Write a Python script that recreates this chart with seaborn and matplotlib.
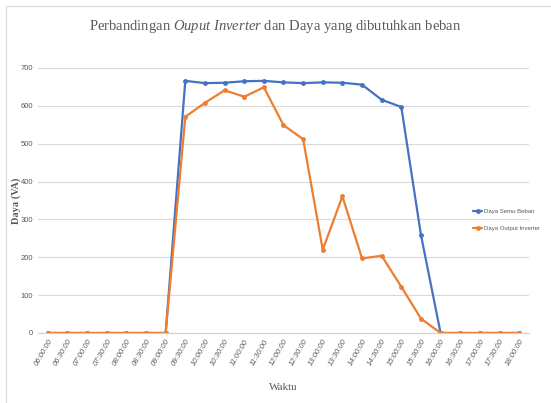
import pandas as pd
import seaborn as sns
import matplotlib.pyplot as plt
from matplotlib.patches import Rectangle

sns.set_style("white")
plt.rcParams['font.family'] = ['Liberation Sans', 'DejaVu Sans']
plt.rcParams['mathtext.fontset'] = 'custom'
plt.rcParams['mathtext.rm'] = 'Liberation Serif'
plt.rcParams['mathtext.it'] = 'Liberation Serif:italic'

waktu = ["06:00:00", "06:30:00", "07:00:00", "07:30:00", "08:00:00", "08:30:00",
         "09:00:00", "09:30:00", "10:00:00", "10:30:00", "11:00:00", "11:30:00",
         "12:00:00", "12:30:00", "13:00:00", "13:30:00", "14:00:00", "14:30:00",
         "15:00:00", "15:30:00", "16:00:00", "16:30:00", "17:00:00", "17:30:00",
         "18:00:00"]
daya_semu_beban = [0, 0, 0, 0, 0, 0, 0, 666, 660, 661, 665, 666, 662, 660,
                   662, 661, 656, 616, 597, 259, 0, 0, 0, 0, 0]
daya_output_inverter = [0, 0, 0, 0, 0, 0, 0, 571, 608, 641, 624, 649, 549, 512,
                        220, 361, 197, 204, 122, 38, 0, 0, 0, 0, 0]

df = pd.concat([
    pd.DataFrame({"Waktu": waktu, "Daya": daya_semu_beban, "Seri": "Daya Semu Beban"}),
    pd.DataFrame({"Waktu": waktu, "Daya": daya_output_inverter, "Seri": "Daya Output Inverter"}),
])

fig = plt.figure(figsize=(5.51, 4.03), dpi=100)
ax = fig.add_axes([0.069, 0.1737, 0.891, 0.6576])

sns.lineplot(data=df, x="Waktu", y="Daya", hue="Seri", sort=False, ax=ax,
             palette={"Daya Semu Beban": "#4472C4", "Daya Output Inverter": "#ED7D31"},
             marker="o", markersize=3.5, markeredgewidth=0, linewidth=1.6)

ax.set_xlim(-0.5, len(waktu) - 0.5)
ax.set_ylim(0, 700)
ax.set_yticks(range(0, 701, 100))
ax.yaxis.grid(True, color="#d9d9d9", linewidth=0.8)
ax.set_axisbelow(True)
for s in ["top", "right", "left"]:
    ax.spines[s].set_visible(False)
ax.spines["bottom"].set_color("#d0d0d0")
ax.spines["bottom"].set_linewidth(0.8)
ax.tick_params(axis="both", length=0, labelsize=5.5, colors="#595959")
ax.tick_params(axis="y", pad=3.5)
plt.setp(ax.get_xticklabels(), rotation=60, ha="right", rotation_mode="anchor",
         style="italic")

ax.set_xlabel("Waktu", family="Liberation Serif", fontsize=8, color="#595959")
ax.set_ylabel("Daya (VA)", family="Liberation Serif", fontsize=7.5, color="#595959",
              fontweight="bold")
ax.xaxis.set_label_coords(0.5, -0.19)
ax.yaxis.set_label_coords(-0.034, 0.5)

fig.text(0.5, 0.935, "Perbandingan $\\it{Ouput\\ Inverter}$ dan Daya yang dibutuhkan beban",
         ha="center", va="center", fontsize=10.5, color="#595959",
         family="Liberation Serif")

handles, labels = ax.get_legend_handles_labels()
ax.get_legend().remove()
fig.legend(handles, labels, loc="center left", bbox_to_anchor=(0.858, 0.455),
           frameon=False, fontsize=4.3, handlelength=1.6, labelspacing=2.0,
           handletextpad=0.2, labelcolor="#595959", borderaxespad=0, borderpad=0)

fig.patches.append(Rectangle((0.011, -0.1), 1.2, 1.085, transform=fig.transFigure,
                             fill=False, edgecolor="#d9d9d9", linewidth=0.8))

fig.savefig("out.png", dpi=100)
